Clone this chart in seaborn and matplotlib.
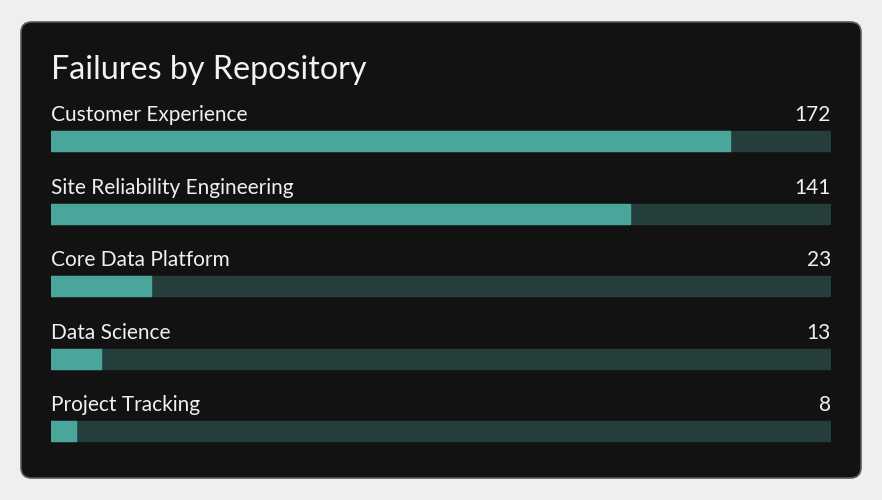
import matplotlib
matplotlib.use("Agg")
import matplotlib.pyplot as plt
from matplotlib.patches import FancyBboxPatch
import seaborn as sns
import pandas as pd

# ---- data ----
repos = ["Customer Experience", "Site Reliability Engineering", "Core Data Platform",
         "Data Science", "Project Tracking"]
failures = [172, 141, 23, 13, 8]
fill_share = [0.870, 0.742, 0.128, 0.064, 0.032]   # bar fill fraction
title = "Failures by Repository"

df = pd.DataFrame({"repo": repos, "failures": failures, "share": fill_share,
                   "track": [1.0] * len(repos)})

W, H = 882, 500
sns.set_theme(style="white")
plt.rcParams["font.family"] = ["Lato", "DejaVu Sans"]

fig = plt.figure(figsize=(W / 100, H / 100), dpi=100)
fig.patch.set_facecolor("#efefef")

# card
card = FancyBboxPatch((21 / W, 22 / H), 840 / W, 456 / H,
                      boxstyle="round,pad=0,rounding_size=0.012",
                      transform=fig.transFigure, facecolor="#121212",
                      edgecolor="#5a5a5a", linewidth=1.2, mutation_aspect=W / H,
                      zorder=-10)
fig.patches.append(card)

fig.text(51 / W, 1 - 70 / H, title, color="#f2f2f2", fontsize=23.2,
         ha="left", va="center", family=["Lato", "DejaVu Sans"])

# axes spanning the bar area
top_px, bot_px = 95, 460
left_px, right_px = 51, 831
ax = fig.add_axes([left_px / W, 1 - bot_px / H, (right_px - left_px) / W,
                   (bot_px - top_px) / H])
ax.set_facecolor("none")
ax.set_zorder(5)

bar_h = 20 / 72.5
sns.barplot(data=df, y="repo", x="track", orient="h", color="#263e3b",
            saturation=1, width=bar_h, ax=ax)
sns.barplot(data=df, y="repo", x="share", orient="h", color="#4aa59a",
            saturation=1, width=bar_h, ax=ax)
for p in ax.patches:
    p.set_edgecolor(p.get_facecolor())
    p.set_linewidth(1.0)
    p.set_joinstyle("round")

ax.set_xlim(0, 1)
ax.set_ylim(4 + 29 / 72.5, -46 / 72.5)
for i, (r, v) in enumerate(zip(repos, failures)):
    ax.text(0, i - 26 / 72.5, r, color="#f0f0f0", fontsize=15, ha="left", va="center")
    ax.text(1, i - 26 / 72.5, str(v), color="#f0f0f0", fontsize=15, ha="right", va="center")

ax.set_xlabel("")
ax.set_ylabel("")
ax.set_xticks([])
ax.set_yticks([])
for s in ax.spines.values():
    s.set_visible(False)

fig.savefig("out.png", dpi=100, facecolor=fig.get_facecolor())
